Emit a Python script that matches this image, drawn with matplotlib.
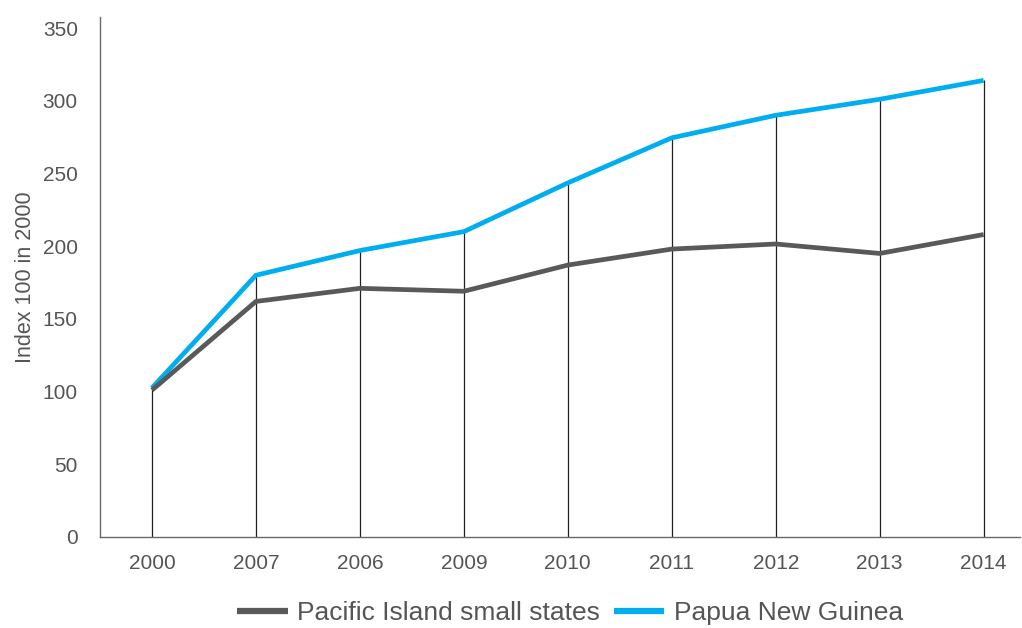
import matplotlib
matplotlib.use("Agg")
import matplotlib.pyplot as plt
import numpy as np

categories = ["2000", "2007", "2006", "2009", "2010", "2011", "2012", "2013", "2014"]
pacific = [101, 162, 171, 169, 187, 198, 201.5, 195, 208]
png = [102.5, 180, 197, 210, 243.5, 274.5, 290, 301, 314]

plt.rcParams['font.family'] = ['Liberation Sans', 'DejaVu Sans']

fig = plt.figure(figsize=(10.22, 6.28), dpi=100)
ax = fig.add_axes([100/1022, 1 - 537/628, 920/1022, 520/628])

x = np.arange(len(categories))
tops = np.maximum(pacific, png)
ax.vlines(x, 0, tops, color='#222222', linewidth=0.9, zorder=1)
ax.plot(x, pacific, color='#58595b', linewidth=3.4, label='Pacific Island small states', zorder=3, solid_capstyle='butt')
ax.plot(x, png, color='#00aeef', linewidth=3.4, label='Papua New Guinea', zorder=2, solid_capstyle='butt')

ax.set_xlim(-0.5, 8.35)
ax.set_ylim(0, 357.6)
ax.set_yticks(np.arange(0, 351, 50))
ax.set_xticks(x)
ax.set_xticklabels(categories)
ax.tick_params(axis='both', length=0, labelsize=15, labelcolor='#555555')
ax.tick_params(axis='x', pad=12)
ax.tick_params(axis='y', pad=16)
for s in ['top', 'right']:
    ax.spines[s].set_visible(False)
for s in ['left', 'bottom']:
    ax.spines[s].set_color('#6a6a6a')
    ax.spines[s].set_linewidth(1.0)
ax.set_ylabel('Index 100 in 2000', fontsize=15.5, color='#555555', labelpad=5)

leg = fig.legend(loc='center', bbox_to_anchor=(570/1022, 1 - 613/628), ncol=2, frameon=False,
                 fontsize=19, handlelength=1.9, columnspacing=0.55, handletextpad=0.35)
for t in leg.get_texts():
    t.set_color('#555555')
for h in leg.get_lines():
    h.set_linewidth(4.5)

fig.savefig('out.png', dpi=100)
